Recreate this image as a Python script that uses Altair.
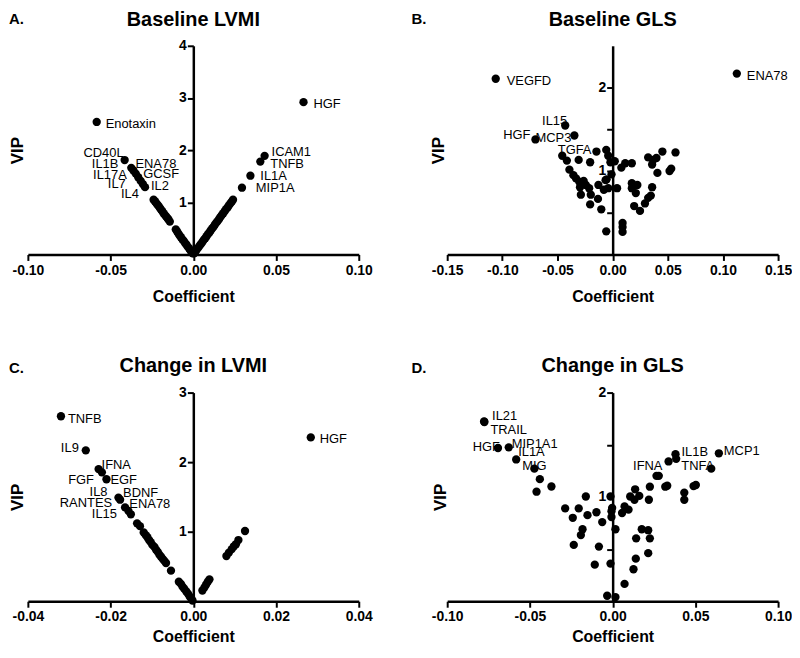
import altair as alt
import pandas as pd

FONT = "Liberation Sans"
W = 333

# ---------------- Panel A: Baseline LVMI ----------------
A_lab_names = ["HGF", "Enotaxin", "CD40L", "IL1B", "ENA78", "IL17A", "GCSF", "IL7", "IL4", "IL2",
               "ICAM1", "TNFB", "IL1A", "MIP1A"]
A_lab_coef = [0.0666, -0.0584, -0.0415, -0.0375, -0.0362, -0.0348, -0.0333, -0.0318, -0.0305, -0.0292,
              0.0431, 0.0405, 0.0345, 0.0294]
A_lab_vip = [2.92, 2.54, 1.81, 1.66, 1.61, 1.55, 1.48, 1.41, 1.35, 1.29,
             1.89, 1.78, 1.51, 1.28]
A_coef = [-0.0240, -0.0232, -0.0225, -0.0218, -0.0210, -0.0202, -0.0195, -0.0188, -0.0180, -0.0172,
          -0.0165, -0.0157, -0.0150, -0.0142, -0.0106, -0.0098, -0.0090, -0.0082, -0.0075, -0.0066,
          -0.0058, -0.0050, -0.0042, -0.0034, -0.0026, -0.0018, -0.0010, -0.0004,
          0.0005, 0.0012, 0.0020, 0.0030, 0.0038, 0.0046, 0.0055, 0.0063, 0.0072, 0.0080,
          0.0089, 0.0097, 0.0105, 0.0114, 0.0122, 0.0130, 0.0139, 0.0147, 0.0156, 0.0164,
          0.0173, 0.0181, 0.0190, 0.0198, 0.0207, 0.0215, 0.0224, 0.0232, 0.0240]
A_vip = [1.05, 1.02, 0.99, 0.96, 0.93, 0.89, 0.86, 0.83, 0.79, 0.76,
         0.73, 0.70, 0.67, 0.63, 0.48, 0.44, 0.40, 0.36, 0.33, 0.29,
         0.26, 0.22, 0.19, 0.15, 0.12, 0.08, 0.05, 0.02,
         0.02, 0.05, 0.09, 0.13, 0.17, 0.20, 0.24, 0.28, 0.31, 0.35,
         0.39, 0.42, 0.46, 0.50, 0.53, 0.57, 0.61, 0.64, 0.68, 0.72,
         0.76, 0.79, 0.83, 0.87, 0.90, 0.94, 0.98, 1.01, 1.05]

# ---------------- Panel B: Baseline GLS ----------------
B_lab_names = ["VEGFD", "ENA78", "IL15", "MCP3", "HGF", "TGFA"]
B_lab_coef = [-0.106, 0.1126, -0.043, -0.0347, -0.070, -0.0147]
B_lab_vip = [2.105, 2.167, 1.545, 1.425, 1.378, 1.233]
B_coef = [-0.0058, -0.0457, -0.0415, -0.0308, -0.0204, -0.0040, -0.0020, 0.0019, -0.0392, -0.0356,
          -0.0332, -0.0303, -0.0263, -0.0243, -0.0296, -0.0213, -0.0288, -0.0198, -0.0129, -0.0055,
          -0.0040, 0.0040, -0.0133, -0.0204, -0.0103, -0.0058, 0.0079, 0.0114, 0.0174, 0.0322,
          0.0367, 0.0397, 0.0451, 0.0570, 0.0358, 0.0406, 0.0516, 0.0531, 0.0174, 0.0224,
          0.0174, 0.0210, 0.0358, 0.0346, 0.0322, 0.0293, 0.0195, 0.0248, 0.0090, 0.0090,
          0.0090, -0.0010, -0.0080, -0.0064]
B_vip = [1.253, 1.183, 1.125, 1.133, 1.105, 1.183, 1.105, 1.117, 1.016, 0.950,
         0.911, 0.872, 0.880, 0.833, 0.806, 0.794, 0.716, 0.716, 0.833, 0.900,
         0.794, 0.794, 0.666, 0.600, 0.541, 0.277, 1.040, 1.093, 1.093, 1.163,
         1.133, 1.156, 1.233, 1.222, 1.078, 0.977, 1.000, 1.028, 0.853, 0.833,
         0.794, 0.736, 0.806, 0.705, 0.678, 0.611, 0.580, 0.522, 0.378, 0.328,
         0.270, 0.960, 0.775, 0.890]

# ---------------- Panel C: Change in LVMI ----------------
C_lab_names = ["TNFB", "HGF", "IL9", "IFNA", "FGF", "EGF", "IL8", "BDNF", "RANTES", "ENA78", "IL15"]
C_lab_coef = [-0.0320, 0.0284, -0.0260, -0.0229, -0.0221, -0.0210, -0.0181, -0.0177, -0.0165, -0.0157, -0.0151]
C_lab_vip = [2.66, 2.356, 2.17, 1.90, 1.853, 1.754, 1.49, 1.46, 1.35, 1.30, 1.25]
C_coef = [-0.0136, -0.0129, -0.0120, -0.0115, -0.0111, -0.0107, -0.0103, -0.0099, -0.0094, -0.0090,
          -0.0086, -0.0082, -0.0078, -0.0074, -0.0070, -0.0066, -0.0054, -0.0035, -0.0030, -0.0026,
          -0.0022, -0.0017, -0.0013, -0.0009, -0.0005, -0.0002,
          0.0022, 0.0027, 0.0031, 0.0035, 0.0039, 0.0080, 0.0086, 0.0093, 0.0098, 0.0103,
          0.0109, 0.0125]
C_vip = [1.12, 1.08, 0.99, 0.95, 0.92, 0.88, 0.85, 0.81, 0.78, 0.74,
         0.71, 0.67, 0.64, 0.61, 0.58, 0.55, 0.44, 0.28, 0.25, 0.21,
         0.18, 0.14, 0.11, 0.07, 0.04, 0.01,
         0.155, 0.20, 0.24, 0.28, 0.315, 0.65, 0.70, 0.75, 0.79, 0.82,
         0.88, 1.01]

# ---------------- Panel D: Change in GLS ----------------
D_lab_names = ["IL21", "TRAIL", "HGF", "MIP1A1", "IL1A", "MIG", "IFNA", "IL1B", "TNFA", "MCP1"]
D_lab_coef = [-0.0777, -0.0775, -0.0693, -0.0628, -0.0583, -0.0473, 0.0265, 0.0380, 0.0596, 0.0642]
D_lab_vip = [1.723, 1.718, 1.469, 1.475, 1.359, 1.271, 1.202, 1.409, 1.271, 1.418]
D_coef = [-0.0440, -0.0370, -0.0460, -0.0287, -0.0205, -0.0162, -0.0241, -0.0152, -0.0098, -0.0063,
          -0.0182, -0.0192, -0.0235, -0.0083, -0.0108, -0.0013, -0.0003, -0.0007, -0.0007, 0.0017,
          -0.0013, -0.0033, 0.0017, 0.0072, 0.0057, 0.0072, 0.0096, 0.0106, 0.0132, 0.0136,
          0.0161, 0.0219, 0.0225, 0.0142, 0.0176, 0.0215, 0.0225, 0.0215, 0.0140, 0.0126,
          0.0279, 0.0318, 0.0330, 0.0338, 0.0384, 0.0433, 0.0433, 0.0489, 0.0503]
D_vip = [1.170, 1.100, 1.050, 0.890, 0.890, 1.004, 0.800, 0.825, 0.853, 0.759,
         0.690, 0.634, 0.540, 0.524, 0.351, 1.004, 0.895, 0.863, 0.807, 0.690,
         0.361, 0.053, 0.040, 0.166, 0.846, 0.909, 0.878, 1.004, 0.973, 1.073,
         1.010, 0.973, 1.098, 0.603, 0.690, 0.681, 0.603, 0.461, 0.408, 0.307,
         1.202, 1.098, 1.107, 1.340, 1.365, 1.041, 0.973, 1.104, 1.114]

# label placement (annotation layout, pixels): align, dx, dy
A_PLACE = {"HGF": ("left", 10, 2), "Enotaxin": ("left", 9, 2), "CD40L": ("right", -1, -7),
           "IL1B": ("right", -13, -4), "ENA78": ("left", 2, -6), "IL17A": ("right", -9, 1),
           "GCSF": ("left", 5, -3), "IL7": ("right", -15, 3), "IL4": ("right", -4, 10),
           "IL2": ("left", 6, -1), "ICAM1": ("left", 7, -4), "TNFB": ("left", 10, 2),
           "IL1A": ("left", 10, 0), "MIP1A": ("left", 14, 0)}
B_PLACE = {"VEGFD": ("left", 11, 2), "ENA78": ("left", 10, 2), "IL15": ("right", 2, -5),
           "HGF": ("right", -5, -4), "MCP3": ("right", -3, 3), "TGFA": ("right", -5, -2)}
C_PLACE = {"TNFB": ("left", 7, 3), "HGF": ("left", 9, 2), "IL9": ("right", -7, -2),
           "IFNA": ("left", 3, -4), "FGF": ("right", -8, 8), "EGF": ("left", 4, 1),
           "IL8": ("right", -11, -6), "BDNF": ("left", 3, -7), "RANTES": ("right", -13, -4),
           "ENA78": ("left", 1, -7), "IL15": ("right", -14, 0)}
D_PLACE = {"IL21": ("left", 8, -5), "TRAIL": ("left", 6, 8), "HGF": ("right", 2, -1),
           "MIP1A1": ("left", 3, -3), "IL1A": ("left", 2, -7), "MIG": ("center", 0, -3),
           "IFNA": ("right", 6, -10), "IL1B": ("left", 6, -2), "TNFA": ("right", 3, -3),
           "MCP1": ("left", 5, -2)}


def panel(letter, title, lab_names, lab_coef, lab_vip, coef, vip, place,
          xdom, xticks, ydom, yticks, height, vip_x, letter_x, title_y, letter_y,
          label_pad, title_pad):
    labels = pd.DataFrame({"name": lab_names, "coef": lab_coef, "vip": lab_vip})
    pts = pd.DataFrame({"coef": lab_coef + coef, "vip": lab_vip + vip})

    xenc = alt.X("coef:Q", scale=alt.Scale(domain=xdom, nice=False, zero=False),
                 axis=alt.Axis(values=xticks, title="Coefficient", grid=False,
                               labelExpr="(datum.value < 0 ? '-' : '') + format(abs(datum.value), '.2f')",
                               domainColor="black", domainWidth=2.5, tickColor="black", tickWidth=2,
                               tickSize=6, labelColor="black", labelFont=FONT, labelFontSize=14,
                               labelFontWeight="bold", labelPadding=label_pad, titleFont=FONT,
                               titleFontSize=16, titleFontWeight="bold", titleColor="black",
                               titlePadding=title_pad, labelFlush=False, labelOverlap=False))
    yenc = alt.Y("vip:Q", scale=alt.Scale(domain=ydom, nice=False, zero=False),
                 axis=alt.Axis(values=yticks, title="VIP", grid=False, offset=-W / 2,
                               titleX=vip_x - W / 2, titleY=height / 2, titleAngle=270,
                               titleAlign="center", titleBaseline="middle",
                               labelExpr="datum.value % 1 == 0 ? format(datum.value, 'd') : ''",
                               domainColor="black", domainWidth=2.5, tickColor="black", tickWidth=2,
                               tickSize=6, labelColor="black", labelFont=FONT, labelFontSize=14,
                               labelFontWeight="bold", labelPadding=1, titleFont=FONT, titleFontSize=17,
                               titleFontWeight="bold", titleColor="black",
                               labelFlush=False, labelOverlap=False))

    lab_base = alt.Chart(labels).encode(x=xenc, y=yenc, text="name:N")
    layers = []
    for n in lab_names:
        al, dx, dy = place[n]
        layers.append(
            lab_base.transform_filter(alt.datum.name == n).mark_text(
                align=al, baseline="middle", dx=dx, dy=dy, font=FONT, fontSize=13, color="black")
        )
    points = alt.Chart(pts).mark_circle(size=70, color="black", opacity=1).encode(x=xenc, y=yenc)
    layers.append(points)

    head = pd.DataFrame({"t": [title]})
    title_mark = alt.Chart(head).mark_text(
        align="center", baseline="middle", font=FONT, fontSize=20, fontWeight="bold", color="black"
    ).encode(text="t:N", x=alt.value(W / 2), y=alt.value(title_y))
    let = pd.DataFrame({"t": [letter]})
    letter_mark = alt.Chart(let).mark_text(
        align="left", baseline="middle", font=FONT, fontSize=15, fontWeight="bold", color="black"
    ).encode(text="t:N", x=alt.value(letter_x), y=alt.value(letter_y))
    layers += [title_mark, letter_mark]
    return alt.layer(*layers).properties(width=W, height=height)


pA = panel("A.", "Baseline LVMI", A_lab_names, A_lab_coef, A_lab_vip, A_coef, A_vip, A_PLACE,
           [-0.1, 0.1], [-0.1, -0.05, 0, 0.05, 0.1], [0, 4], [1, 2, 3, 4], 210,
           -10.5, -19, -26, -27, 3, 11)
pB = panel("B.", "Baseline GLS", B_lab_names, B_lab_coef, B_lab_vip, B_coef, B_vip, B_PLACE,
           [-0.15, 0.15], [-0.15, -0.1, -0.05, 0, 0.05, 0.1, 0.15], [0, 2.5], [0.5, 1, 1.5, 2],
           210, -9, -36, -26, -27, 3, 11)
pC = panel("C.", "Change in LVMI", C_lab_names, C_lab_coef, C_lab_vip, C_coef, C_vip, C_PLACE,
           [-0.04, 0.04], [-0.04, -0.02, 0, 0.02, 0.04], [0, 3], [1, 2, 3], 210,
           -10.5, -19, -27, -25, 2, 6)
pD = panel("D.", "Change in GLS", D_lab_names, D_lab_coef, D_lab_vip, D_coef, D_vip, D_PLACE,
           [-0.1, 0.1], [-0.1, -0.05, 0, 0.05, 0.1], [0, 2], [0.5, 1, 1.5, 2], 210,
           -7, -36, -27, -25, 2, 6)

chart = alt.vconcat(
    alt.hconcat(pA, pB, spacing=39),
    alt.hconcat(pC, pD, spacing=39),
    spacing=52,
).properties(padding=0, background="white").configure_view(stroke=None)

chart.save("out.html", embed_options={"renderer": "svg", "actions": False})
